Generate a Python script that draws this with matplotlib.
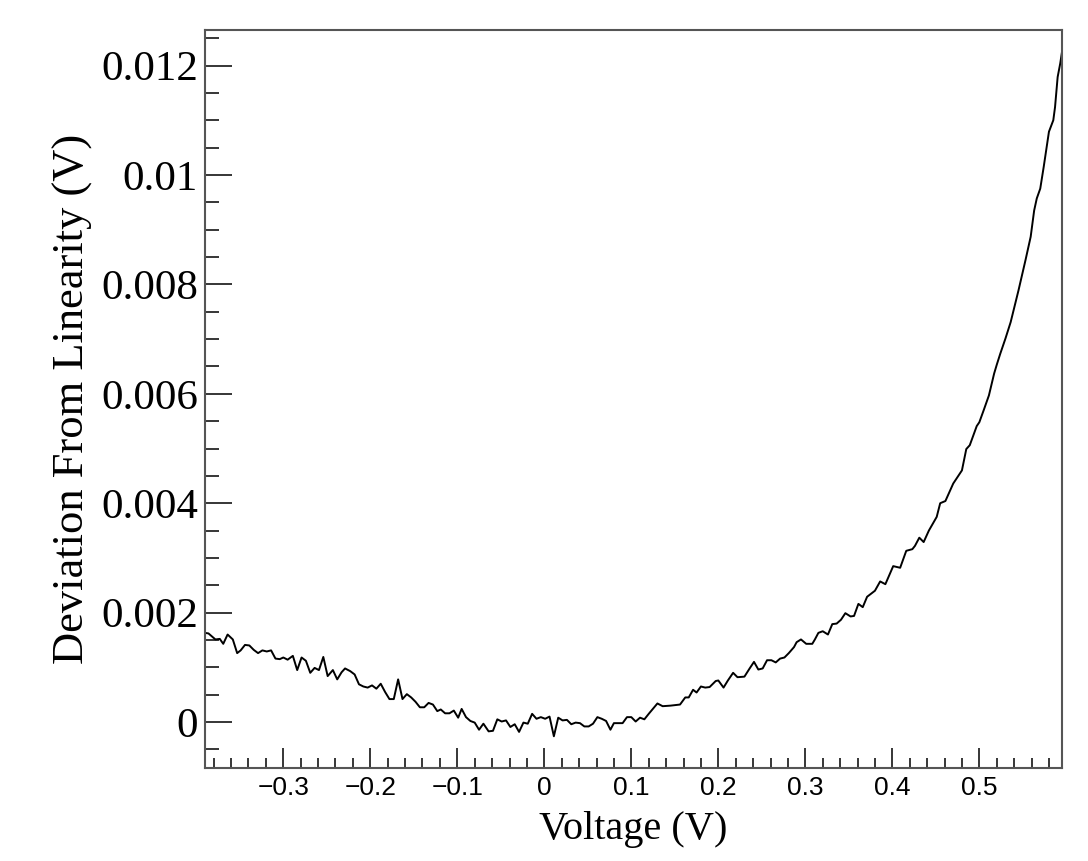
import numpy as np
import matplotlib
matplotlib.use("Agg")
import matplotlib.pyplot as plt
from matplotlib.ticker import MultipleLocator, FixedLocator

# voltage (V) and deviation from linearity (mV)
voltage = [
    -0.390, -0.386, -0.381, -0.378, -0.373, -0.369, -0.364, -0.358, -0.353, -0.349,
    -0.344, -0.339, -0.334, -0.329, -0.324, -0.319, -0.314, -0.309, -0.304, -0.300,
    -0.295, -0.289, -0.284, -0.279, -0.274, -0.269, -0.264, -0.259, -0.254, -0.249,
    -0.243, -0.238, -0.233, -0.229, -0.223, -0.218, -0.213, -0.208, -0.203, -0.198,
    -0.193, -0.188, -0.183, -0.178, -0.173, -0.168, -0.163, -0.158, -0.153, -0.148,
    -0.143, -0.138, -0.133, -0.128, -0.123, -0.119, -0.114, -0.109, -0.104, -0.099,
    -0.095, -0.090, -0.085, -0.080, -0.075, -0.070, -0.064, -0.059, -0.054, -0.049,
    -0.044, -0.039, -0.034, -0.029, -0.024, -0.019, -0.014, -0.009, -0.004, 0.001,
    0.006, 0.011, 0.016, 0.021, 0.026, 0.031, 0.036, 0.041, 0.046, 0.051,
    0.056, 0.061, 0.066, 0.071, 0.076, 0.080, 0.085, 0.090, 0.095, 0.100,
    0.105, 0.110, 0.115, 0.120, 0.130, 0.136, 0.145, 0.156, 0.162, 0.166,
    0.171, 0.175, 0.180, 0.185, 0.190, 0.197, 0.200, 0.206, 0.211, 0.217,
    0.222, 0.230, 0.236, 0.241, 0.246, 0.251, 0.256, 0.261, 0.266, 0.271,
    0.276, 0.281, 0.287, 0.290, 0.295, 0.301, 0.308, 0.311, 0.315, 0.320,
    0.326, 0.331, 0.336, 0.341, 0.346, 0.352, 0.356, 0.361, 0.366, 0.371,
    0.380, 0.386, 0.392, 0.401, 0.409, 0.416, 0.423, 0.426, 0.431, 0.436,
    0.442, 0.451, 0.455, 0.461, 0.470, 0.480, 0.485, 0.489, 0.497, 0.500,
    0.505, 0.511, 0.517, 0.520, 0.524, 0.530, 0.536, 0.545, 0.553, 0.559,
    0.563, 0.566, 0.570, 0.574, 0.578, 0.580, 0.585, 0.587, 0.590, 0.593,
    0.595,
]
deviation_mv = [
    1.63, 1.62, 1.55, 1.51, 1.52, 1.43, 1.60, 1.51, 1.26, 1.31,
    1.41, 1.40, 1.32, 1.26, 1.31, 1.29, 1.31, 1.16, 1.15, 1.18,
    1.14, 1.21, 0.95, 1.18, 1.12, 0.90, 0.99, 0.95, 1.19, 0.84,
    0.95, 0.78, 0.91, 0.98, 0.93, 0.87, 0.69, 0.65, 0.63, 0.67,
    0.61, 0.70, 0.55, 0.42, 0.42, 0.78, 0.42, 0.51, 0.45, 0.37,
    0.27, 0.27, 0.35, 0.32, 0.20, 0.23, 0.16, 0.16, 0.21, 0.08,
    0.24, 0.09, 0.02, -0.01, -0.14, -0.03, -0.17, -0.16, 0.05, 0.01,
    0.03, -0.09, -0.04, -0.18, -0.01, -0.03, 0.15, 0.06, 0.09, 0.06,
    0.10, -0.26, 0.08, 0.03, 0.04, -0.04, -0.01, -0.02, -0.08, -0.08,
    -0.03, 0.09, 0.06, 0.02, -0.14, -0.02, -0.02, -0.02, 0.09, 0.09,
    0.01, 0.08, 0.05, 0.15, 0.34, 0.29, 0.30, 0.32, 0.45, 0.45,
    0.59, 0.54, 0.65, 0.63, 0.64, 0.75, 0.76, 0.63, 0.76, 0.90,
    0.82, 0.83, 0.98, 1.10, 0.96, 0.98, 1.13, 1.13, 1.09, 1.16,
    1.18, 1.26, 1.37, 1.46, 1.51, 1.43, 1.43, 1.51, 1.63, 1.66,
    1.60, 1.79, 1.80, 1.87, 1.99, 1.93, 1.94, 2.16, 2.10, 2.29,
    2.40, 2.57, 2.52, 2.85, 2.82, 3.13, 3.16, 3.22, 3.37, 3.29,
    3.50, 3.75, 4.00, 4.04, 4.36, 4.60, 4.99, 5.06, 5.41, 5.48,
    5.70, 5.97, 6.37, 6.53, 6.73, 7.01, 7.31, 7.89, 8.44, 8.87,
    9.35, 9.57, 9.75, 10.15, 10.57, 10.79, 11.00, 11.24, 11.79, 12.04,
    12.25,
]

x_ticks = [-0.3, -0.2, -0.1, 0.0, 0.1, 0.2, 0.3, 0.4, 0.5]
x_labels = ["\u22120.3", "\u22120.2", "\u22120.1", "0", "0.1", "0.2", "0.3", "0.4", "0.5"]
y_ticks = [0.0, 0.002, 0.004, 0.006, 0.008, 0.01, 0.012]
y_labels = ["0", "0.002", "0.004", "0.006", "0.008", "0.01", "0.012"]

x = np.array(voltage)
y = np.array(deviation_mv) / 1000.0

fig = plt.figure(figsize=(10.88, 8.61), dpi=100)
ax = fig.add_axes([0.1884, 0.108, 0.7877, 0.8572])

ax.plot(x, y, color="black", lw=1.4)

ax.set_xlim(-0.39, 0.595)
ax.set_ylim(-0.00084, 0.01265)

ax.xaxis.set_major_locator(FixedLocator(x_ticks))
ax.set_xticklabels(x_labels, family="Liberation Sans", fontsize=19)
ax.xaxis.set_minor_locator(MultipleLocator(0.02))
ax.yaxis.set_major_locator(FixedLocator(y_ticks))
ax.set_yticklabels(y_labels, family="Liberation Serif", fontsize=31)
ax.yaxis.set_minor_locator(MultipleLocator(0.0005))

ax.tick_params(axis="x", which="major", direction="in", length=14.4, width=1.1,
               pad=6, top=False)
ax.tick_params(axis="x", which="minor", direction="in", length=7.2, width=1.1, top=False)
ax.tick_params(axis="y", which="major", direction="in", length=19.4, width=1.1,
               pad=5, right=False)
ax.tick_params(axis="y", which="minor", direction="in", length=10, width=1.1, right=False)

for sp in ax.spines.values():
    sp.set_color("#555555")
    sp.set_linewidth(1.5)

ax.set_xlabel("Voltage (V)", family="Liberation Serif", fontsize=29, labelpad=8)
ax.set_ylabel("Deviation From Linearity (V)", family="Liberation Serif", fontsize=32,
              labelpad=6)

fig.savefig("out.png", dpi=100)
